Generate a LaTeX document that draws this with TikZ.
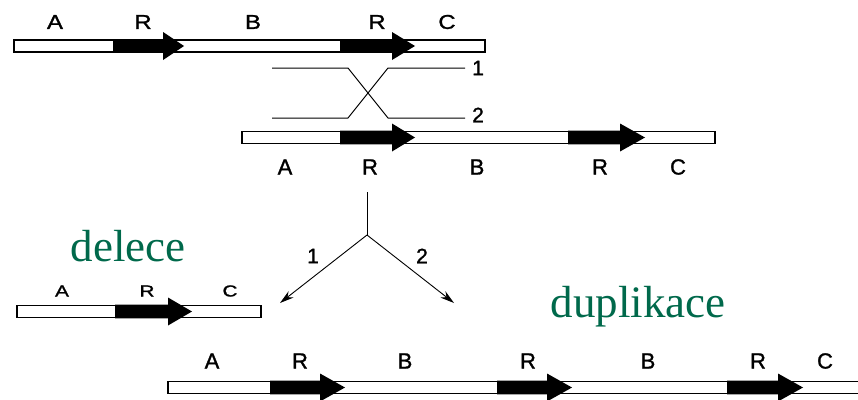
\documentclass[tikz,border=0pt]{standalone}
\usepackage{fontspec}
\setmainfont{Liberation Serif}
\newfontfamily\lblfont[FakeBold=1.3]{Liberation Sans}
\newfontfamily\widefont[FakeStretch=1.2,FakeBold=1.3]{Liberation Sans}
\newfontfamily\flatfont[FakeStretch=1.3,FakeBold=1.3]{Liberation Sans}
\usetikzlibrary{arrows.meta}
\definecolor{slidegreen}{RGB}{0,105,75}
\tikzset{
	toplbl/.style={font=\widefont\fontsize{20}{20}\selectfont, inner sep=0pt},
	lbl/.style={font=\lblfont\fontsize{22}{22}\selectfont, inner sep=0pt},
	numlbl/.style={font=\lblfont\fontsize{21}{21}\selectfont, inner sep=0pt},
	smalllbl/.style={font=\flatfont\fontsize{16}{16}\selectfont, inner sep=0pt},
	title/.style={font=\fontsize{45}{45}\selectfont, text=slidegreen, inner sep=0pt},
	bar/.style={draw=black, line width=1.8pt, fill=white},
	strand/.style={line width=1pt},
	split/.style={line width=0.9pt, -{Stealth[length=14pt,width=8pt]}}
}
% bar of a chromosome: left, right, centre y
\newcommand{\chrbar}[3]{\draw[bar] (#1,#3-6) rectangle (#2,#3+6);}
% black repeat R: start, head base, tip, centre y
\newcommand{\rep}[4]{\fill (#1,#4-6.8) -- (#2,#4-6.8) -- (#2,#4-14) -- (#3,#4) -- (#2,#4+14) -- (#2,#4+6.8) -- (#1,#4+6.8) -- cycle;}
\begin{document}
\begin{tikzpicture}[x=1pt, y=-1pt]
	\useasboundingbox (0,0) rectangle (858,399);
	
	% upper chromosome
	\chrbar{14}{485}{46}
	\rep{113}{163}{184}{46}
	\rep{340}{392}{415}{46}
	\node[toplbl] (a1) at (55,22) {A};
	\node[toplbl] (r1) at (143,22) {R};
	\node[toplbl] (b1) at (253,22) {B};
	\node[toplbl] (r2) at (377,22) {R};
	\node[toplbl] (c1) at (447,22) {C};
	
	% crossing over
	\coordinate (s1) at (272,68);
	\coordinate (s2) at (272,118);
	\coordinate (e1) at (465,68);
	\coordinate (e2) at (465,118);
	\draw[strand] (s1) -- (348,68) -- (388,118) -- (e2);
	\draw[strand] (s2) -- (348,118) -- (388,68) -- (e1);
	\node[numlbl, anchor=west] (n1) at (472,68) {1};
	\node[numlbl, anchor=west] (n2) at (472,115) {2};
	
	% lower chromosome
	\chrbar{242}{715}{137.5}
	\rep{340}{392}{415}{137.5}
	\rep{568}{620}{645}{137.5}
	\node[lbl] (a2) at (285,167) {A};
	\node[lbl] (r3) at (370,167) {R};
	\node[lbl] (b2) at (477,167) {B};
	\node[lbl] (r4) at (600,167) {R};
	\node[lbl] (c2) at (678,167) {C};
	
	% the two products
	\coordinate (top) at (367,192);
	\coordinate (fork) at (367,235);
	\coordinate (left) at (280,303);
	\coordinate (right) at (454,303);
	\draw[line width=0.9pt] (top) -- (fork);
	\draw[split] (fork) -- (left);
	\draw[split] (fork) -- (right);
	\node[numlbl] (p1) at (313,256) {1};
	\node[numlbl] (p2) at (422,256) {2};
	
	% deletion
	\node[title] (del) at (128,246) {delece};
	\chrbar{17}{261}{311.5}
	\rep{115}{168}{192}{311.5}
	\node[smalllbl] (a3) at (62,291) {A};
	\node[smalllbl] (r5) at (147,291) {R};
	\node[smalllbl] (c3) at (230,291) {C};
	
	% duplication
	\node[title] (dup) at (638,307) {duplikace};
	\chrbar{168}{880}{387.5}
	\rep{270}{320}{345}{387.5}
	\rep{497}{547}{572}{387.5}
	\rep{727}{778}{803}{387.5}
	\node[lbl] (a4) at (212,361) {A};
	\node[lbl] (r6) at (300,361) {R};
	\node[lbl] (b3) at (405,361) {B};
	\node[lbl] (r7) at (528,361) {R};
	\node[lbl] (b4) at (648,361) {B};
	\node[lbl] (r8) at (758,361) {R};
	\node[lbl] (c4) at (825,361) {C};
	
\end{tikzpicture}
\end{document}
